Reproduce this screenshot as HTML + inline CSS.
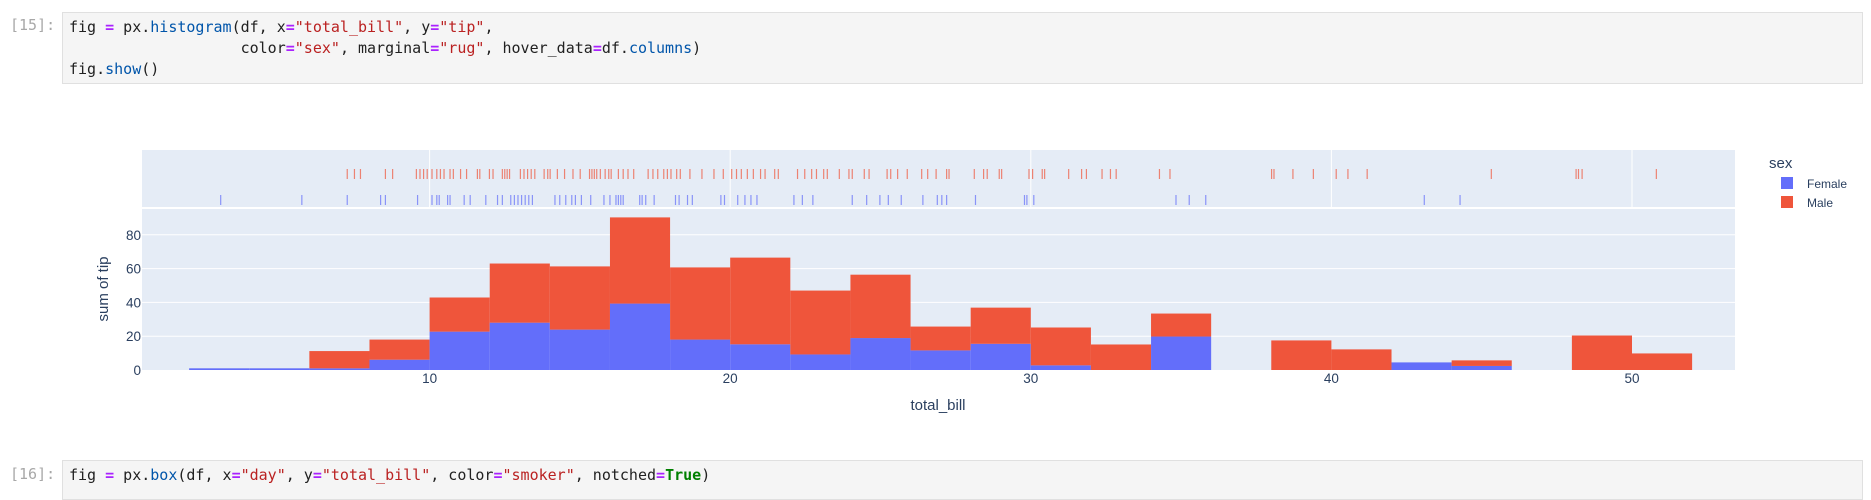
<!DOCTYPE html>
<html><head><meta charset="utf-8">
<style>
body{margin:0;width:1871px;height:488px;overflow:hidden;background:#fff;font-family:"Liberation Sans",sans-serif;position:relative}
.prompt{position:absolute;left:10px;font-family:"DejaVu Sans Mono","Liberation Mono",monospace;font-size:15px;color:#a8a8a8}
.cell{position:absolute;left:62px;width:1801px;background:#f5f5f5;border:1px solid #e0e0e0;box-sizing:border-box;font-family:"DejaVu Sans Mono","Liberation Mono",monospace;font-size:15px;line-height:21px;padding:4px 6px;white-space:pre;color:#212121}
.o{color:#aa22ff;font-weight:bold}.s{color:#ba2121}.f{color:#0055aa}.k{color:#008000;font-weight:bold}
</style></head><body>
<div class="prompt" style="top:16px">[15]:</div>
<div class="cell" style="top:12px;height:72px">fig <span class="o">=</span> px.<span class="f">histogram</span>(df, x<span class="o">=</span><span class="s">"total_bill"</span>, y<span class="o">=</span><span class="s">"tip"</span>,
                   color<span class="o">=</span><span class="s">"sex"</span>, marginal<span class="o">=</span><span class="s">"rug"</span>, hover_data<span class="o">=</span>df.<span class="f">columns</span>)
fig.<span class="f">show</span>()</div>
<div class="prompt" style="top:465px">[16]:</div>
<div class="cell" style="top:460px;height:40px">fig <span class="o">=</span> px.<span class="f">box</span>(df, x<span class="o">=</span><span class="s">"day"</span>, y<span class="o">=</span><span class="s">"total_bill"</span>, color<span class="o">=</span><span class="s">"smoker"</span>, notched<span class="o">=</span><span class="k">True</span>)</div>
<svg id="chart" width="1871" height="488" style="position:absolute;left:0;top:0;pointer-events:none"></svg>
<script>
const binStarts=[2,4,6,8,10,12,14,16,18,20,22,24,26,28,30,32,34,36,38,40,42,44,46,48,50];
const femaleTip=[1,1,1,6.1,22.7,28,23.9,39.3,18,15.2,9.2,18.9,11.6,15.5,2.75,0,19.8,0,0,0,4.5,2.4,0,0,0];
const maleTip=[0,0,10.2,11.9,20.2,35,37.4,51,42.7,51.3,37.8,37.5,14.1,21.4,22.4,15.1,13.6,0,17.5,12.2,0,3.3,0,20.4,9.8];
const xTicks=[10,20,30,40,50];
const yTicks=[0,20,40,60,80];
const maleBills=[7.26,7.5,7.7,8.53,8.77,9.56,9.68,9.8,9.92,10.08,10.24,10.36,10.48,10.68,10.79,11.03,11.23,11.59,11.67,11.99,12.11,12.42,12.5,12.58,12.66,13.02,13.14,13.26,13.38,13.5,13.81,13.93,14.01,14.25,14.49,14.77,15.01,15.32,15.4,15.48,15.56,15.68,15.84,15.96,16.04,16.28,16.44,16.6,16.79,17.27,17.43,17.59,17.79,17.91,18.03,18.22,18.34,18.66,19.06,19.46,19.77,20.05,20.21,20.37,20.57,20.77,21.01,21.16,21.48,21.6,22.24,22.48,22.71,22.87,23.11,23.23,23.63,23.95,24.06,24.46,24.62,25.22,25.34,25.57,25.89,26.37,26.57,26.85,27.2,27.28,28.12,28.43,28.55,28.95,29.03,29.94,30.06,30.38,30.46,31.26,31.69,31.85,32.37,32.65,32.84,34.28,34.63,38.01,38.09,38.72,39.4,40.16,40.55,41.19,45.32,48.14,48.22,48.34,50.81];
const femaleBills=[3.05,5.75,7.26,8.37,8.53,9.6,10.08,10.24,10.32,10.6,10.68,11.15,11.35,11.87,12.26,12.42,12.7,12.82,12.94,13.06,13.18,13.3,13.42,14.17,14.33,14.53,14.73,14.85,15.05,15.36,15.8,16,16.2,16.28,16.36,16.44,16.99,17.07,17.19,17.47,18.18,18.3,18.58,18.74,19.69,19.81,20.25,20.49,20.69,20.89,22.12,22.4,22.75,24.06,24.54,24.98,25.26,25.69,26.41,26.89,27.04,27.2,28.16,29.79,29.87,30.1,34.83,35.27,35.82,43.09,44.28];
const binWidth=2;
const NS="http://www.w3.org/2000/svg";
const svg=document.getElementById('chart');
const L=142,R=1735,mainTop=209,mainBot=370,rugTop=150,rugBot=207;
const x=v=>129+(v*30.06);
const y=v=>mainBot-v*1.69;
function mk(t,a,p){const e=document.createElementNS(NS,t);for(const k in a)e.setAttribute(k,a[k]);(p||svg).appendChild(e);return e;}
let e;
e=mk('rect',{x:L,y:rugTop,width:R-L,height:rugBot-rugTop,fill:'#e5ecf6'});


e=mk('rect',{x:L,y:mainTop,width:R-L,height:mainBot-mainTop,fill:'#e5ecf6'});


xTicks.forEach(t=>{
  e=mk('line',{x1:x(t),x2:x(t),y1:rugTop,y2:rugBot,stroke:'#fff','stroke-width':1});
  
  
  e=mk('text',{x:x(t),y:383,'text-anchor':'middle','font-size':'13.5','fill':'#2a3f5f'});
  e.textContent=t;
  
  
});
yTicks.forEach(t=>{
  if(t>0){e=mk('line',{x1:L,x2:R,y1:y(t),y2:y(t),stroke:'#fff','stroke-width':1});
  
  }
  e=mk('text',{x:L-1,y:y(t)+5,'text-anchor':'end','font-size':'13.5','fill':'#2a3f5f'});
  e.textContent=t;
  
  
});
binStarts.forEach((b,i)=>{
  const f=femaleTip[i],m=maleTip[i];
  if(f>0){e=mk('rect',{x:x(b),y:y(f),width:x(b+binWidth)-x(b),height:y(0)-y(f),fill:'#636efa'});
  
  }
  if(m>0){e=mk('rect',{x:x(b),y:y(f+m),width:x(b+binWidth)-x(b),height:y(f)-y(f+m),fill:'#ef553b'});
  
  }
});
maleBills.forEach(v=>{
  e=mk('line',{x1:x(v),x2:x(v),y1:169,y2:179,stroke:'#ef553b','stroke-width':1.2,'stroke-opacity':0.7});
  
  
});
femaleBills.forEach(v=>{
  e=mk('line',{x1:x(v),x2:x(v),y1:195,y2:205,stroke:'#636efa','stroke-width':1.2,'stroke-opacity':0.7});
  
  
});
e=mk('text',{x:938,y:410,'text-anchor':'middle','font-size':'15','fill':'#2a3f5f'});
e.textContent='total_bill';


e=mk('text',{x:0,y:0,'text-anchor':'middle','font-size':'15','fill':'#2a3f5f',transform:'translate(108,289) rotate(-90)'});
e.textContent='sum of tip';


e=mk('text',{x:1769,y:168,'font-size':'15','fill':'#2a3f5f'});
e.textContent='sex';


[['Female','#636efa',183],['Male','#ef553b',202]].forEach(([n,c,yy])=>{
  e=mk('rect',{x:1781,y:yy-6,width:12,height:12,fill:c});
  
  
  e=mk('text',{x:1807,y:yy+5,'font-size':'12','fill':'#2a3f5f'});
  e.textContent=n;
  
  
});
</script>
</body></html>
